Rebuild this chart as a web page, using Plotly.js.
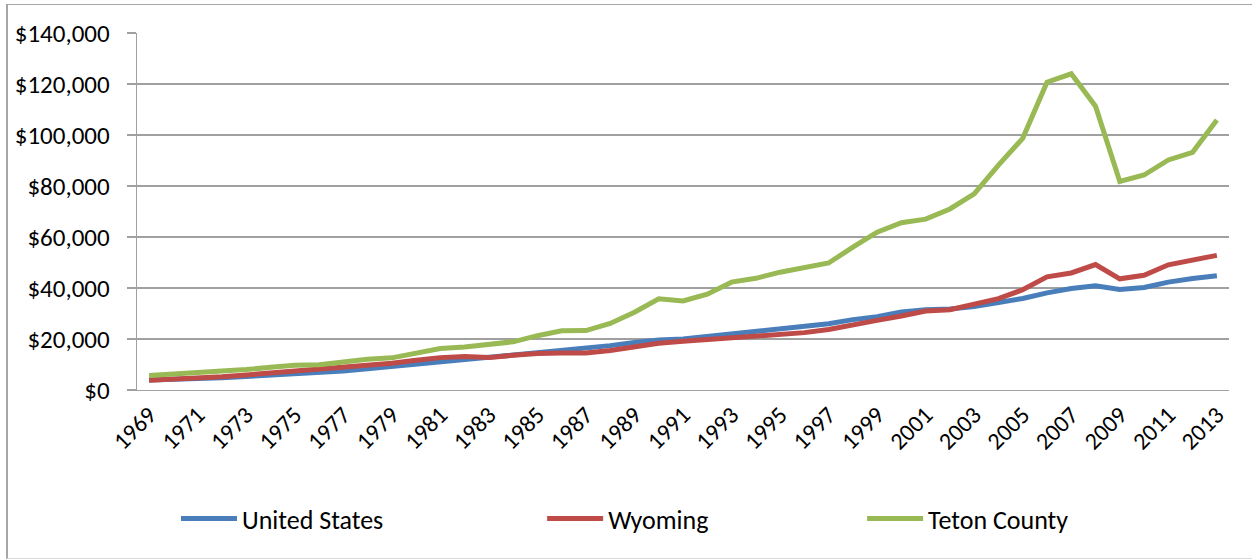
<!DOCTYPE html>
<html>
<head>
<meta charset="utf-8">
<script src="https://cdn.plot.ly/plotly-3.0.1.min.js"></script>
<style>
  html, body { margin: 0; padding: 0; background: #fff; }
  #chart { width: 1252px; height: 559px; }
  #frame { position: absolute; left: 6px; top: 4px; width: 1250px; height: 553px;
           border-left: 2px solid #a6a6a6; border-top: 1px solid #a6a6a6; border-bottom: 1px solid #d9d9d9;
           pointer-events: none; }
</style>
</head>
<body>
<div id="chart"></div>
<div id="frame"></div>
<script>
const years = [1969,1970,1971,1972,1973,1974,1975,1976,1977,1978,1979,1980,1981,1982,1983,1984,1985,1986,1987,1988,1989,1990,1991,1992,1993,1994,1995,1996,1997,1998,1999,2000,2001,2002,2003,2004,2005,2006,2007,2008,2009,2010,2011,2012,2013];

const unitedStates = [3900,4100,4400,4800,5300,5800,6200,6800,7400,8300,9200,10100,11200,11900,12600,13800,14700,15400,16300,17400,18600,19600,20000,21000,21700,22600,23600,24800,26000,27600,28700,30600,31500,31800,32700,34300,35900,38100,39800,40900,39400,40200,42300,43700,44800];

const wyoming = [3800,4200,4600,5200,5900,6700,7300,7900,8800,9800,10500,11700,12700,13100,12700,13600,14300,14500,14500,15500,16800,18300,19100,19800,20500,21100,21700,22500,23700,25300,27300,29000,31000,31500,33500,35800,39300,44400,45900,49200,43600,45000,49100,50800,52800];

const tetonCounty = [5700,6200,6800,7300,8000,8900,9700,9900,11000,12100,12600,14700,16300,16900,17800,18900,21300,23200,23300,26100,30500,35800,34900,37600,42300,43800,46200,47900,49800,56000,61900,65600,67000,71000,76900,88200,98700,120700,124000,111300,81800,84300,90200,93200,105900];

const seriesNames = ["United States", "Wyoming", "Teton County"];
const seriesColors = ["#4a7ebb", "#be4b48", "#98b954"];
const yTicks = [0,20000,40000,60000,80000,100000,120000,140000];
const yTickText = ["$0","$20,000","$40,000","$60,000","$80,000","$100,000","$120,000","$140,000"];

const labelYears = years.filter((y, i) => i % 2 === 0);
const boundaries = years.map(y => y - 0.5).concat([years[years.length - 1] + 0.5]);
const xRange = [years[0] - 0.5, years[years.length - 1] + 0.5];

const FONT = "Carlito, Lato, 'Open Sans', sans-serif";
const seriesData = [unitedStates, wyoming, tetonCounty];
const legendIds = ["legend", "legend2", "legend3"];

const traces = seriesData.map((vals, i) => ({
  type: "scatter", mode: "lines", x: years, y: vals, name: seriesNames[i],
  line: { color: seriesColors[i], width: 5 },
  legend: legendIds[i], hoverinfo: "x+y+name"
}));

const legendBase = {
  orientation: "h", yanchor: "middle", y: -0.36, xanchor: "left",
  font: { family: FONT, size: 26, color: "#000" }, bgcolor: "rgba(0,0,0,0)",
  itemwidth: 56, tracegroupgap: 0
};

const layout = {
  width: 1252, height: 559,
  margin: { l: 137, r: 23, t: 33, b: 169 },
  paper_bgcolor: "#fff", plot_bgcolor: "#fff",
  font: { family: FONT, size: 24, color: "#000" },
  showlegend: true,
  legend: Object.assign({}, legendBase, { x: 0.0357 }),
  legend2: Object.assign({}, legendBase, { x: 0.371 }),
  legend3: Object.assign({}, legendBase, { x: 0.664 }),
  xaxis: {
    range: xRange, tickmode: "array", tickvals: labelYears, ticktext: labelYears.map(String),
    tickangle: -45, ticks: "", showgrid: false, zeroline: false,
    showline: true, linecolor: "#a0a0a0", linewidth: 1.3,
    tickfont: { family: FONT, size: 24, color: "#000" }, fixedrange: true
  },
  xaxis2: {
    overlaying: "x", anchor: "y", side: "bottom", range: xRange,
    tickmode: "array", tickvals: boundaries, showticklabels: false,
    ticks: "outside", ticklen: 7, tickwidth: 1.3, tickcolor: "#a0a0a0",
    showgrid: false, zeroline: false, showline: false, fixedrange: true
  },
  yaxis: {
    range: [0, 140000], tickmode: "array", tickvals: yTicks, ticktext: yTickText,
    ticks: "outside", ticklen: 9, tickwidth: 1.3, tickcolor: "#a0a0a0",
    ticklabelstandoff: 12,
    showgrid: true, gridcolor: "#a0a0a0", gridwidth: 1.3,
    zeroline: false, showline: true, linecolor: "#a0a0a0", linewidth: 1.3,
    tickfont: { family: FONT, size: 25, color: "#000" }, fixedrange: true
  }
};

Plotly.newPlot("chart", traces, layout, { displayModeBar: false, staticPlot: true });
</script>
</body>
</html>
